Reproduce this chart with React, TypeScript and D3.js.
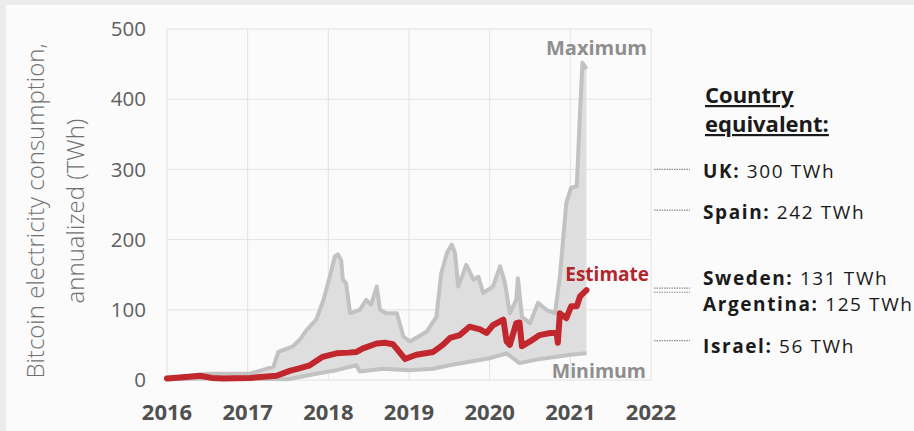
import React from 'react';
import * as d3 from 'd3';

// [decimal year, TWh]
const estimateSeries: [number, number][] = [
  [2016.0, 2], [2016.2, 4], [2016.41, 6], [2016.55, 3], [2016.7, 2], [2017.03, 3],
  [2017.36, 6], [2017.52, 13], [2017.65, 17], [2017.77, 21], [2017.93, 33], [2018.1, 38],
  [2018.25, 39], [2018.35, 40], [2018.43, 45], [2018.6, 52], [2018.7, 53], [2018.8, 51],
  [2018.86, 43], [2018.95, 30], [2019.09, 36], [2019.3, 40], [2019.42, 50], [2019.51, 60],
  [2019.63, 64], [2019.75, 76], [2019.88, 72], [2019.96, 67], [2020.04, 78], [2020.17, 86],
  [2020.21, 55], [2020.25, 50], [2020.33, 81], [2020.37, 82], [2020.4, 48], [2020.5, 55],
  [2020.62, 64], [2020.75, 67], [2020.83, 67], [2020.845, 53], [2020.87, 95], [2020.95, 88],
  [2021.01, 105], [2021.08, 105], [2021.12, 119], [2021.2, 128],
];

const maxSeries: [number, number][] = [
  [2016.0, 3], [2016.53, 9], [2017.03, 9], [2017.32, 19], [2017.38, 40], [2017.45, 43],
  [2017.56, 48], [2017.65, 58], [2017.73, 71], [2017.85, 86], [2017.94, 114], [2018.02, 148],
  [2018.08, 176], [2018.12, 179], [2018.16, 170], [2018.18, 143], [2018.22, 138], [2018.27, 95],
  [2018.39, 100], [2018.47, 114], [2018.53, 107], [2018.6, 133], [2018.64, 100], [2018.72, 95],
  [2018.85, 95], [2018.93, 62], [2019.01, 55], [2019.09, 60], [2019.22, 69], [2019.34, 90],
  [2019.4, 152], [2019.47, 181], [2019.53, 193], [2019.57, 181], [2019.61, 133], [2019.71, 164],
  [2019.8, 143], [2019.86, 147], [2019.92, 124], [2020.04, 133], [2020.13, 162], [2020.19, 138],
  [2020.25, 95], [2020.33, 114], [2020.35, 145], [2020.4, 90], [2020.5, 81], [2020.6, 110],
  [2020.7, 100], [2020.81, 95], [2020.87, 147], [2020.95, 252], [2021.01, 274], [2021.08, 276],
  [2021.12, 381], [2021.15, 452], [2021.2, 443],
];

const minSeries: [number, number][] = [
  [2016.0, 1], [2016.5, 2], [2017.0, 2], [2017.5, 1], [2017.85, 9], [2018.1, 14],
  [2018.35, 21], [2018.39, 12], [2018.68, 16], [2019.01, 14], [2019.3, 16], [2019.5, 21],
  [2019.75, 26], [2020.0, 31], [2020.21, 38], [2020.29, 31], [2020.37, 24], [2020.58, 29],
  [2020.83, 33], [2021.0, 36], [2021.2, 38],
];

const yearTicks = [2016, 2017, 2018, 2019, 2020, 2021, 2022];
const valueTicks = [0, 100, 200, 300, 400, 500];

const countryNames = ['UK', 'Spain', 'Sweden', 'Argentina', 'Israel'];
const countryValues = [300, 242, 131, 125, 56];
const countryLabelY = [178, 219, 285, 311, 353];

const FONT = '"Open Sans", "Noto Sans", sans-serif';

export default function App() {
  const x = d3.scaleLinear().domain([2016, 2022]).range([167, 651]);
  const y = d3.scaleLinear().domain([0, 500]).range([380, 29]);

  const line = d3
    .line<[number, number]>()
    .x(d => x(d[0]))
    .y(d => y(d[1]));

  const bandPts: [number, number][] = [...maxSeries, ...minSeries.slice().reverse()];
  const bandPath = line(bandPts) + 'Z';

  return (
    <svg
      width={914}
      height={431}
      style={{ position: 'absolute', left: 0, top: 0, fontFamily: FONT }}
    >
      <rect x={0} y={0} width={914} height={431} fill="#ececec" />
      <rect x={6} y={5} width={908} height={426} fill="#fbfbfb" />

      {/* grid */}
      {valueTicks.map(v => (
        <line key={'h' + v} x1={x(2016)} x2={x(2022)} y1={y(v)} y2={y(v)} stroke="#e2e2e2" strokeWidth={1} />
      ))}
      {yearTicks.map(t => (
        <line key={'v' + t} x1={x(t)} x2={x(t)} y1={y(0)} y2={y(500)} stroke="#e2e2e2" strokeWidth={1} />
      ))}

      {/* min-max band */}
      <path d={bandPath} fill="#dedede" stroke="none" />
      <path d={line(maxSeries) || ''} fill="none" stroke="#c2c2c2" strokeWidth={4} strokeLinejoin="round" />
      <path d={line(minSeries) || ''} fill="none" stroke="#c2c2c2" strokeWidth={4} strokeLinejoin="round" />
      <path
        d={line(estimateSeries) || ''}
        fill="none"
        stroke="#c1272d"
        strokeWidth={6}
        strokeLinejoin="round"
        strokeLinecap="round"
      />

      {/* y ticks */}
      {valueTicks.map(v => (
        <text key={'yt' + v} x={146} y={y(v)} dy="0.35em" textAnchor="end" fontSize={20.5} fill="#5f5f5f">
          {v}
        </text>
      ))}
      {/* x ticks */}
      {yearTicks.map(t => (
        <text key={'xt' + t} x={x(t)} y={420} textAnchor="middle" fontSize={22} fontWeight={700} fill="#505050">
          {t}
        </text>
      ))}

      {/* y title */}
      <g transform="translate(36,211) rotate(-90)">
        <text x={0} y={0} dy="0.35em" textAnchor="middle" fontSize={24} fontWeight={300} fill="#707070">
          Bitcoin electricity consumption,
        </text>
        <text x={0} y={40} dy="0.35em" textAnchor="middle" fontSize={24} fontWeight={300} fill="#707070">
          annualized (TWh)
        </text>
      </g>

      {/* series labels */}
      <text x={647} y={55} textAnchor="end" fontSize={20} fontWeight={700} fill="#8e8e8e">Maximum</text>
      <text x={649} y={281} textAnchor="end" fontSize={19} fontWeight={700} fill="#b3262b">Estimate</text>
      <text x={646} y={378} textAnchor="end" fontSize={19.5} fontWeight={700} fill="#8e8e8e">Minimum</text>

      {/* country equivalents */}
      <text x={705} y={103} fontSize={22} fontWeight={700} fill="#1a1a1a" textDecoration="underline">Country</text>
      <text x={705} y={132} fontSize={22} fontWeight={700} fill="#1a1a1a" textDecoration="underline">equivalent:</text>
      {countryNames.map((n, i) => (
        <g key={n}>
          <line
            x1={654}
            x2={690}
            y1={y(countryValues[i])}
            y2={y(countryValues[i])}
            stroke="#8a8a8a"
            strokeWidth={1.2}
            strokeDasharray="1.5 1"
          />
          <text x={703} y={countryLabelY[i]} fontSize={19} letterSpacing={1.6} fill="#1a1a1a">
            <tspan fontWeight={700}>{n}:</tspan> {countryValues[i]} TWh
          </text>
        </g>
      ))}
    </svg>
  );
}
